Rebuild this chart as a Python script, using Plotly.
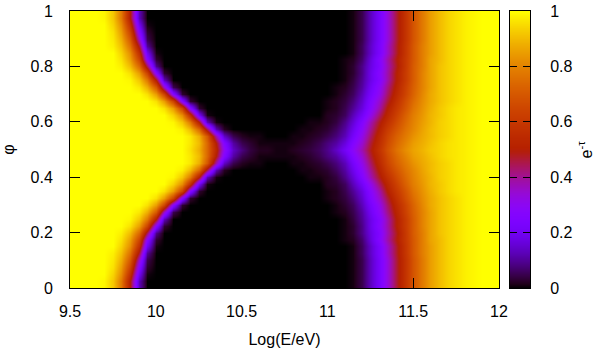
import math

import plotly.graph_objects as go

# values, in percent; the map is mirrored about phi = 0.5
log_e = [round(9.5 + 0.05 * i, 2) for i in range(51)]

phi_lower = [0, 0.025, 0.05, 0.075, 0.1, 0.125, 0.15, 0.175, 0.2, 0.225, 0.25,
             0.275, 0.3, 0.325, 0.35, 0.375, 0.4, 0.425, 0.45, 0.475, 0.5]

# logE 9.5 .. 10.45
edge_left = [
    [100] * 4 + [99, 92, 78, 50, 13, 0] + [0] * 10,
    [100] * 4 + [99, 92, 78, 50, 13, 0] + [0] * 10,
    [100] * 5 + [94, 82, 57, 20, 1] + [0] * 10,
    [100] * 5 + [96, 85, 64, 27, 3] + [0] * 10,
    [100] * 5 + [97, 88, 70, 35, 5] + [0] * 10,
    [100] * 5 + [98, 91, 76, 47, 10, 0] + [0] * 9,
    [100] * 6 + [94, 82, 57, 20, 1] + [0] * 9,
    [100] * 6 + [96, 85, 64, 27, 3] + [0] * 9,
    [100] * 6 + [98, 90, 74, 44, 9] + [0] * 9,
    [100] * 7 + [96, 85, 64, 27, 3] + [0] * 8,
    [100] * 7 + [99, 92, 78, 50, 13, 0] + [0] * 7,
    [100] * 8 + [97, 88, 70, 35, 5] + [0] * 7,
    [100] * 9 + [96, 85, 64, 27, 3] + [0] * 6,
    [100] * 10 + [96, 85, 64, 27, 3] + [0] * 5,
    [100] * 11 + [96, 85, 64, 27, 3] + [0] * 4,
    [100] * 12 + [94, 82, 57, 20, 1] + [0] * 3,
    [100] * 12 + [99, 92, 78, 50, 13, 1, 0, 0],
    [100] * 13 + [98, 90, 74, 44, 12, 2, 0],
    [100] * 14 + [97, 88, 70, 38, 14, 5],
    [100] * 14 + [97, 90, 74, 50, 26, 11],
    [100] * 14 + [96, 88, 74, 53, 30, 14],
]

# logE 10.5 .. 10.95
centre = [[0] * 10] * 16 + [
    [0, 0, 0, 0, 0, 0, 0, 0, 1, 1],
    [0, 0, 0, 0, 0, 0, 0, 1, 1, 2],
    [2, 1, 1, 0, 0, 0, 1, 1, 2, 3],
    [5, 3, 1, 1, 1, 1, 1, 2, 3, 5],
    [8, 4, 2, 2, 1, 1, 2, 3, 4, 6],
]

# logE 11.0 .. 12.0
edge_right = [
    [0, 0, 0, 1, 5, 13, 22, 33, 46, 58, 69, 78, 85, 90, 94, 96, 98, 99, 100, 100, 100],
    [0, 0, 0, 1, 5, 13, 22, 33, 46, 58, 69, 78, 85, 90, 94, 96, 98, 99, 100, 100, 100],
    [0, 0, 0, 1, 5, 13, 22, 33, 46, 58, 69, 78, 85, 90, 94, 96, 98, 99, 100, 100, 100],
    [0, 0, 0, 1, 5, 13, 22, 33, 46, 58, 69, 78, 85, 90, 94, 96, 98, 99, 100, 100, 100],
    [0, 0, 0, 1, 5, 13, 22, 33, 46, 58, 69, 78, 85, 90, 94, 96, 98, 99, 100, 100, 100],
    [0, 0, 0, 1, 6, 14, 23, 35, 47, 59, 70, 79, 85, 90, 94, 96, 98, 99, 100, 100, 100],
    [0, 0, 0, 1, 6, 14, 23, 35, 47, 59, 70, 79, 85, 90, 94, 96, 98, 99, 100, 100, 100],
    [0, 0, 1, 2, 7, 16, 26, 38, 49, 60, 70, 79, 86, 90, 94, 96, 98, 99, 100, 100, 100],
    [0, 0, 1, 3, 9, 17, 25, 37, 48, 60, 71, 79, 86, 91, 94, 96, 98, 99, 100, 100, 100],
    [0, 0, 1, 3, 9, 18, 27, 38, 50, 61, 71, 80, 86, 91, 94, 96, 98, 99, 100, 100, 100],
    [0, 0, 1, 4, 10, 18, 26, 38, 50, 61, 71, 80, 86, 91, 94, 96, 98, 99, 100, 100, 100],
    [0, 1, 2, 5, 11, 20, 29, 41, 52, 63, 72, 80, 86, 91, 94, 96, 98, 99, 100, 100, 100],
    [0, 1, 3, 6, 13, 22, 31, 43, 54, 64, 73, 81, 87, 91, 94, 96, 98, 99, 100, 100, 100],
    [1, 2, 4, 8, 15, 25, 35, 46, 57, 67, 75, 82, 87, 91, 94, 96, 98, 99, 100, 100, 100],
    [1, 2, 5, 10, 17, 27, 38, 50, 60, 69, 77, 83, 88, 92, 95, 97, 98, 99, 100, 100, 100],
    [2, 3, 6, 13, 21, 31, 43, 53, 63, 72, 79, 84, 89, 92, 95, 97, 98, 99, 100, 100, 100],
    [2, 4, 9, 16, 26, 37, 48, 57, 66, 74, 80, 85, 89, 93, 95, 97, 98, 99, 100, 100, 100],
    [3, 6, 11, 19, 29, 40, 51, 61, 69, 76, 81, 86, 90, 93, 95, 97, 98, 99, 100, 100, 100],
    [5, 8, 13, 22, 32, 43, 54, 64, 72, 78, 83, 87, 90, 93, 95, 97, 98, 99, 100, 100, 100],
    [8, 11, 17, 26, 35, 46, 56, 66, 74, 80, 85, 88, 91, 94, 96, 97, 98, 99, 100, 100, 100],
    [9, 14, 21, 29, 38, 48, 58, 68, 76, 82, 86, 89, 92, 94, 96, 97, 98, 99, 100, 100, 100],
]

x_ticks = [9.5, 10, 10.5, 11, 11.5, 12]
x_labels = ["9.5", "10", "10.5", "11", "11.5", "12"]
y_ticks = [0, 0.2, 0.4, 0.6, 0.8, 1]
y_labels = ["0", "0.2", "0.4", "0.6", "0.8", "1"]

phi = phi_lower + [round(1 - p, 3) for p in phi_lower[-2::-1]]
rows = [a + b + c for a, b, c in zip(edge_left, centre, edge_right)]
z = [[v / 100 for v in row] for row in rows + rows[-2::-1]]


def gnuplot_colorscale(n=64):
    # gnuplot's default pm3d palette (rgbformulae 7,5,15)
    scale = []
    for i in range(n):
        t = i / (n - 1)
        r = math.sqrt(t)
        g = t**3
        b = max(math.sin(2 * math.pi * t), 0)
        scale.append([t, f"rgb({r * 255:.0f},{g * 255:.0f},{b * 255:.0f})"])
    return scale


FONT = {"family": "Liberation Sans, Arial, sans-serif", "size": 16, "color": "#000000"}
PALETTE = gnuplot_colorscale()

PLOT_W = 460  # main map plus colour bar

heat = go.Heatmap(
    x=log_e, y=phi, z=z, zmin=0, zmax=1, zsmooth="best",
    colorscale=PALETTE, showscale=False,
)

# colour bar drawn as a heatmap on its own axes, so it has ticks on both sides
bar = go.Heatmap(
    x=[0, 1], y=[0, 1], z=[[0, 0], [1, 1]], zmin=0, zmax=1, zsmooth="best",
    colorscale=PALETTE, showscale=False, xaxis="x2", yaxis="y2",
)

fig = go.Figure(data=[heat, bar])
fig.update_layout(
    width=600,
    height=350,
    margin={"l": 70, "r": 600 - 70 - PLOT_W, "t": 11, "b": 62, "autoexpand": False},
    paper_bgcolor="#ffffff",
    plot_bgcolor="#ffffff",
    font=FONT,
    annotations=[
        {
            "text": "e<sup>-τ</sup>",
            "xref": "paper",
            "yref": "paper",
            "x": 515 / PLOT_W,
            "y": 0.5,
            "xanchor": "center",
            "yanchor": "middle",
            "textangle": -90,
            "showarrow": False,
            "font": FONT,
        }
    ],
    xaxis={
        "domain": [0, 429 / PLOT_W],
        "range": [9.5, 12],
        "tickvals": x_ticks,
        "ticktext": x_labels,
        "ticks": "inside",
        "ticklen": 10,
        "tickcolor": "#000000",
        "showline": True,
        "linecolor": "#000000",
        "linewidth": 1,
        "mirror": "ticks",
        "showgrid": False,
        "zeroline": False,
        "automargin": False,
        "ticklabelstandoff": 9,
        "title": {"text": "Log(E/eV)", "font": FONT, "standoff": 14},
    },
    yaxis={
        "range": [0, 1],
        "tickvals": y_ticks,
        "ticktext": y_labels,
        "ticks": "inside",
        "ticklen": 10,
        "tickcolor": "#000000",
        "showline": True,
        "linecolor": "#000000",
        "linewidth": 1,
        "mirror": "ticks",
        "showgrid": False,
        "zeroline": False,
        "automargin": False,
        "ticklabelstandoff": 13,
        "title": {"text": "φ", "font": FONT, "standoff": 12},
    },
    xaxis2={
        "domain": [440 / PLOT_W, 1],
        "range": [0, 1],
        "anchor": "y2",
        "showticklabels": False,
        "ticks": "",
        "showline": True,
        "linecolor": "#000000",
        "linewidth": 1,
        "mirror": True,
        "showgrid": False,
        "zeroline": False,
        "automargin": False,
    },
    yaxis2={
        "range": [0, 1],
        "anchor": "x2",
        "side": "right",
        "tickvals": y_ticks,
        "ticktext": y_labels,
        "ticks": "inside",
        "ticklen": 7,
        "tickcolor": "#000000",
        "showline": True,
        "linecolor": "#000000",
        "linewidth": 1,
        "mirror": "ticks",
        "showgrid": False,
        "zeroline": False,
        "automargin": False,
        "ticklabelstandoff": 16,
    },
)

# drop the page's default body margin so figure pixels line up with the window
fig.write_html(
    "out.html",
    config={"displayModeBar": False},
    post_script="document.body.style.margin = '0';",
)
